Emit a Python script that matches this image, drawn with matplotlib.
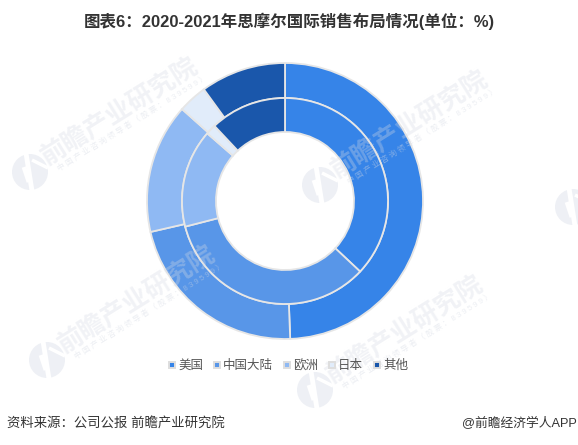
import matplotlib
matplotlib.use("Agg")
import matplotlib.pyplot as plt
from matplotlib.lines import Line2D
from matplotlib.patches import Circle

plt.rcParams['font.family'] = ['Liberation Sans', 'Noto Sans CJK SC', 'DejaVu Sans']

title = "图表6：2020-2021年思摩尔国际销售布局情况(单位：%)"
source = "资料来源：公司公报 前瞻产业研究院"
credit = "@前瞻经济学人APP"
regions = ["美国", "中国大陆", "欧洲", "日本", "其他"]
colors = ["#3684E8", "#5896E8", "#8FB9F3", "#E1ECFA", "#1A57AB"]
outer_2021 = [49.4, 22.0, 15.2, 3.4, 10.0]
inner_2020 = [37.0, 34.0, 15.4, 1.6, 12.0]

W, H = 578, 445
fig = plt.figure(figsize=(W / 100, H / 100), dpi=100)
ax = fig.add_axes([0, 0, 1, 1])
cx, cy = 285, H - 201
wedge_edge = dict(edgecolor="#E6E6E6", linewidth=1.3)

ax.pie(outer_2021, radius=138, center=(cx, cy), colors=colors, startangle=90, counterclock=False,
       wedgeprops=dict(width=35, **wedge_edge))
ax.pie(inner_2020, radius=103, center=(cx, cy), colors=colors, startangle=90, counterclock=False,
       wedgeprops=dict(width=34, **wedge_edge))
ax.set_xlim(0, W)
ax.set_ylim(0, H)
ax.set_aspect("equal")
ax.axis("off")

# watermarks: logo position, followed by the two text lines placed relative to it
wm = "#D5DAE4"
logo_fill = "#EEF0F5"
sub = " ".join("中国产业咨询领导者（股票：839599）")
for lx, ly, has_text in [(30, 172, True), (320, 185, True), (47, 360, True), (315, 390, True), (573, 207, False)]:
    ax.add_patch(Circle((lx, H - ly), 18, facecolor=logo_fill, lw=0, zorder=5))
    ax.plot([lx - 4, lx + 2], [H - ly + 19, H - ly - 19], color="white", lw=3.5, zorder=5.1, solid_capstyle="butt")
    ax.plot([lx - 6, lx - 1], [H - ly + 5, H - ly - 10], color="white", lw=3.5, zorder=5.1, solid_capstyle="butt")
    ax.plot([lx + 2, lx + 18], [H - ly + 12, H - ly + 4], color="white", lw=2.5, zorder=5.1, solid_capstyle="butt")
    if has_text:
        ax.text(lx + 90, H - ly + 61, "前瞻产业研究院", fontsize=18.5, color=wm, alpha=0.33, rotation=32,
                ha="center", va="center", rotation_mode="anchor", fontweight="bold", zorder=5)
        ax.text(lx + 102, H - ly + 49, sub, fontsize=5.6, color=wm, alpha=0.45, rotation=32,
                ha="center", va="center", rotation_mode="anchor", zorder=5)

ax.text(289, H - 21, title, fontsize=11.85, fontweight="bold", color="#333333", ha="center", va="center", zorder=6)
ax.text(7, H - 424, source, fontsize=9.6, color="#333333", ha="left", va="center", zorder=6)
ax.text(577, H - 424, credit, fontsize=9.2, color="#333333", ha="right", va="center", zorder=6)

handles = [Line2D([], [], linestyle="", marker="s", markersize=4.6, markerfacecolor=c,
                  markeredgecolor="#DEDEDE", markeredgewidth=1.4) for c in colors]
leg = ax.legend(handles, regions, ncol=5, frameon=False, loc="center", bbox_to_anchor=(288 / W, 1 - 366 / H),
                fontsize=9, labelcolor="#555555", handlelength=0.65, handletextpad=0.15, columnspacing=0.8,
                borderpad=0, borderaxespad=0)
leg.set_zorder(6)

fig.savefig("out.png", dpi=100)
